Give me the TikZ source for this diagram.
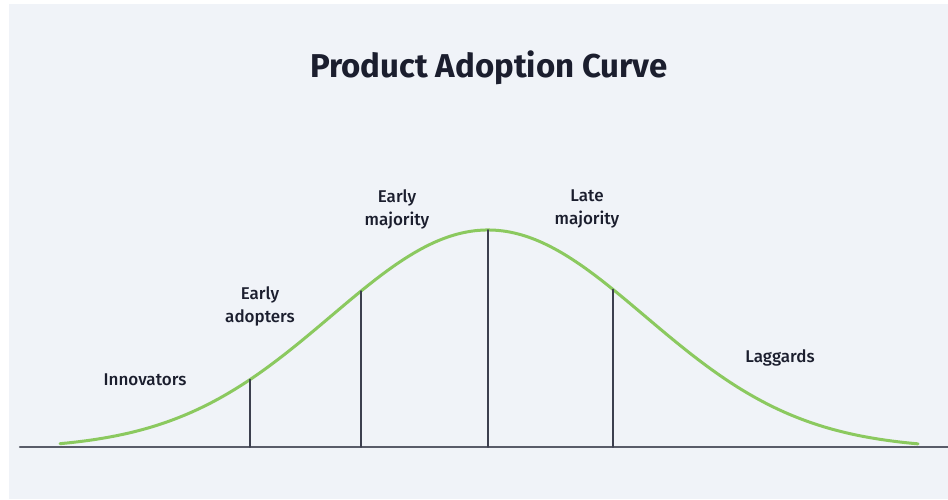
\documentclass[tikz,border=0pt]{standalone}
\usepackage{fontspec}
\setmainfont{Fira Sans}
\newfontfamily\phasefont{Fira Sans Medium}
\usepackage{xcolor}
\usetikzlibrary{positioning}

\definecolor{bgpanel}{HTML}{F0F3F8}
\definecolor{curvegreen}{HTML}{8BC95F}
\definecolor{inkdark}{HTML}{1B1E2E}
\definecolor{linegray}{HTML}{3C3F4E}

\begin{document}
\begin{tikzpicture}[
    x = 1pt, y = -1pt, % one unit per pixel, y pointing down
    line cap = round,
    declare function = {bell(\t) = 449 - 219*exp(-0.5*((\t-488)/157)^2);},
    heading/.style = {text = inkdark, font = \fontsize{33}{38}\selectfont\bfseries},
    phase/.style = {text = inkdark, align = center, font = \fontsize{17}{23}\selectfont\phasefont},
    divider/.style = {draw = linegray, line width = 1.6pt},
    axis/.style = {draw = linegray!85, line width = 2.2pt},
    adoption/.style = {draw = curvegreen, line width = 3pt}
  ]

  % page and panel
  \fill[white] (0,0) rectangle (948,499);
  \fill[bgpanel] (9,4) rectangle (948,499);
  \useasboundingbox (0,0) rectangle (948,499);

  \node[heading] (title) at (489, 68) {Product Adoption Curve};

  % baseline
  \coordinate (axisL) at (20, 447);
  \coordinate (axisR) at (948, 447);
  \draw[axis] (axisL) -- (axisR);

  % bell curve
  \draw[adoption] plot[domain = 60:918, samples = 120, smooth] (\x, {bell(\x)});

  % segment dividers
  \foreach \name/\px in {d1/250, d2/361, d3/488, d4/613} {
    \coordinate (\name top) at (\px, {bell(\px)});
    \coordinate (\name foot) at (\px, 447);
    \draw[divider] (\name top) -- (\name foot);
  }

  \node[phase] (innovators) at (145, 380) {Innovators};
  \node[phase] (adopters) at (260, 306) {Early\\adopters};
  \node[phase] (earlymaj) at (397, 209) {Early\\majority};
  \node[phase] (latemaj) at (587, 209) {Late\\majority};
  \node[phase] (laggards) at (780, 358) {Laggards};
\end{tikzpicture}
\end{document}
